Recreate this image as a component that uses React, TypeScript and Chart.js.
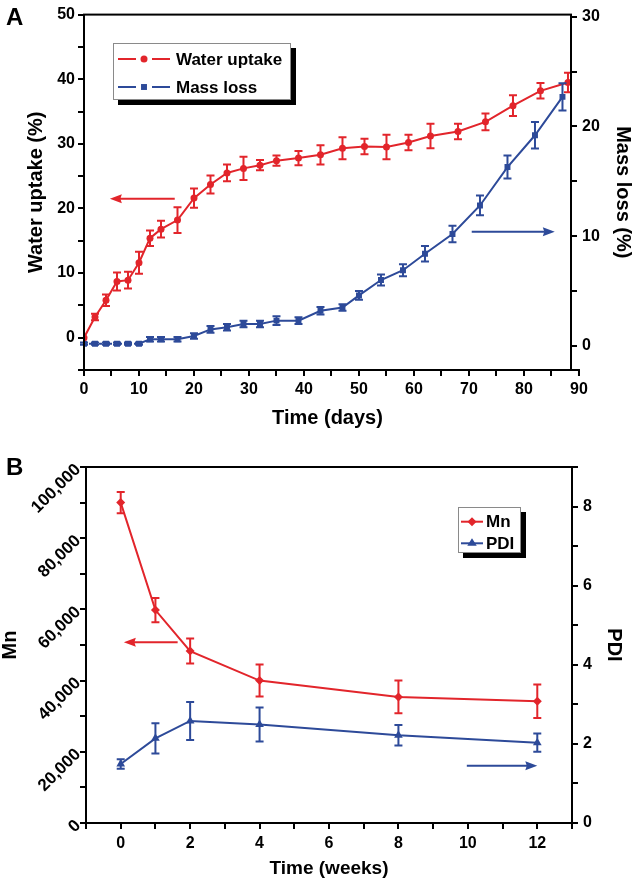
import React, { useEffect, useRef } from 'react';
import { Chart, registerables } from 'chart.js';

Chart.register(...registerables);

const FONT = "'Liberation Sans', Arial, Helvetica, sans-serif";
const RED = '#e2252b';
const BLUE = '#2d4a99';
const BLACK = '#000000';

// ---------------- Panel A data ----------------
const waterDays = [0, 2, 4, 6, 8, 10, 12, 14, 17, 20, 23, 26, 29, 32, 35, 39, 43, 47, 51, 55, 59, 63, 68, 73, 78, 83, 88];
const waterUptake = [0, 3.2, 5.8, 8.7, 8.9, 11.6, 15.4, 16.8, 18.2, 21.6, 23.7, 25.5, 26.2, 26.7, 27.4, 27.8, 28.3, 29.3, 29.6, 29.5, 30.2, 31.2, 31.9, 33.4, 35.9, 38.2, 39.5];
const waterErr = [0, 0.5, 0.9, 1.4, 1.3, 1.7, 1.2, 1.3, 2.0, 1.5, 1.4, 1.3, 1.8, 0.8, 0.8, 1.1, 1.5, 1.7, 1.2, 1.9, 1.2, 1.9, 1.2, 1.3, 1.6, 1.2, 1.5];
const massDays = [0, 2, 4, 6, 8, 10, 12, 14, 17, 20, 23, 26, 29, 32, 35, 39, 43, 47, 50, 54, 58, 62, 67, 72, 77, 82, 87];
const massLoss = [0.2, 0.2, 0.2, 0.2, 0.2, 0.2, 0.6, 0.6, 0.6, 0.9, 1.5, 1.7, 2.0, 2.0, 2.3, 2.3, 3.2, 3.5, 4.6, 6.0, 6.9, 8.4, 10.2, 12.8, 16.3, 19.2, 22.7];
const massErr = [0.1, 0.1, 0.1, 0.1, 0.1, 0.1, 0.2, 0.2, 0.2, 0.25, 0.3, 0.3, 0.3, 0.3, 0.4, 0.3, 0.35, 0.3, 0.4, 0.5, 0.55, 0.7, 0.75, 0.9, 1.05, 1.2, 1.25];

const dayTicks = [0, 5, 10, 15, 20, 25, 30, 35, 40, 45, 50, 55, 60, 65, 70, 75, 80, 85, 90];
const waterTicks = [-5, 0, 5, 10, 15, 20, 25, 30, 35, 40, 45, 50];
const massTicks = [0, 5, 10, 15, 20, 25, 30];

const arrowsA = [
  { axis: 'y', x0: 16.5, x1: 4.7, y: 21.5, color: RED },
  { axis: 'y2', x0: 70.5, x1: 85.6, y: 10.4, color: BLUE },
];

// ---------------- Panel B data ----------------
const weeks = [0, 1, 2, 4, 8, 12];
const mnValues = [90000, 59800, 48300, 40000, 35400, 34200];
const mnErr = [3000, 3400, 3500, 4500, 4600, 4700];
const pdiValues = [1.49, 2.14, 2.58, 2.49, 2.22, 2.03];
const pdiErr = [0.12, 0.38, 0.48, 0.43, 0.26, 0.23];

const weekTicks = [-1, 0, 1, 2, 3, 4, 5, 6, 7, 8, 9, 10, 11, 12, 13];
const mnTicks = [0, 10000, 20000, 30000, 40000, 50000, 60000, 70000, 80000, 90000, 100000];
const pdiTicks = [0, 1, 2, 3, 4, 5, 6, 7, 8, 9];

const arrowsB = [
  { axis: 'y', x0: 1.64, x1: 0.09, y: 50800, color: RED },
  { axis: 'y2', x0: 9.97, x1: 12.0, y: 1.45, color: BLUE },
];

// ---------------- helpers ----------------
function drawShape(ctx: CanvasRenderingContext2D, style: string, x: number, y: number, r: number, color: string) {
  ctx.save();
  ctx.fillStyle = color;
  ctx.beginPath();
  if (style === 'circle') {
    ctx.arc(x, y, r, 0, Math.PI * 2);
  } else if (style === 'rect') {
    const s = r * Math.SQRT1_2;
    ctx.rect(x - s, y - s, 2 * s, 2 * s);
  } else if (style === 'rectRot') {
    ctx.moveTo(x, y - r);
    ctx.lineTo(x + r, y);
    ctx.lineTo(x, y + r);
    ctx.lineTo(x - r, y);
    ctx.closePath();
  } else if (style === 'triangle') {
    const h = r * 1.5;
    ctx.moveTo(x, y - r);
    ctx.lineTo(x + r * 0.95, y + h - r);
    ctx.lineTo(x - r * 0.95, y + h - r);
    ctx.closePath();
  }
  ctx.fill();
  ctx.restore();
}

type LegendCfg = {
  box: { x: number; y: number; w: number; h: number };
  rows: number[];
  fontSize: number;
  textX: number;
  sample: { x0: number; x1: number; mx: number; gap: number };
};

function makeDeco(cfg: {
  errors: number[][];
  arrows: { axis: string; x0: number; x1: number; y: number; color: string }[];
  legend: LegendCfg;
  letter: { text: string; x: number; y: number };
  xExtendTo?: number;
}) {
  return {
    id: 'deco',
    afterDatasetsDraw(chart: any) {
      const ctx: CanvasRenderingContext2D = chart.ctx;
      const xs = chart.scales.x;
      cfg.errors.forEach((errs, di) => {
        const ds = chart.data.datasets[di];
        const meta = chart.getDatasetMeta(di);
        const ys = chart.scales[meta.yAxisID];
        ctx.save();
        ctx.strokeStyle = ds.borderColor;
        ctx.lineWidth = 2;
        const cap = 4;
        ds.data.forEach((p: any, i: number) => {
          const e = errs[i];
          if (!e) return;
          const px = xs.getPixelForValue(p.x);
          const yt = ys.getPixelForValue(p.y + e);
          const yb = ys.getPixelForValue(p.y - e);
          ctx.beginPath();
          ctx.moveTo(px, yt);
          ctx.lineTo(px, yb);
          ctx.moveTo(px - cap, yt);
          ctx.lineTo(px + cap, yt);
          ctx.moveTo(px - cap, yb);
          ctx.lineTo(px + cap, yb);
          ctx.stroke();
        });
        ctx.restore();
      });
    },
    afterDraw(chart: any) {
      const ctx: CanvasRenderingContext2D = chart.ctx;
      const { left, right, top, bottom } = chart.chartArea;
      const xs = chart.scales.x;
      // frame
      ctx.save();
      ctx.strokeStyle = BLACK;
      ctx.lineWidth = 2;
      ctx.strokeRect(left, top, right - left, bottom - top);
      if (cfg.xExtendTo !== undefined) {
        const ex = xs.getPixelForValue(cfg.xExtendTo);
        ctx.beginPath();
        ctx.moveTo(right, bottom);
        ctx.lineTo(ex + 1, bottom);
        ctx.moveTo(ex, bottom);
        ctx.lineTo(ex, bottom + 6);
        ctx.stroke();
      }
      ctx.restore();
      // arrows
      cfg.arrows.forEach((a) => {
        const ys = chart.scales[a.axis];
        const px0 = xs.getPixelForValue(a.x0);
        const px1 = xs.getPixelForValue(a.x1);
        const py = ys.getPixelForValue(a.y);
        const dir = px1 > px0 ? 1 : -1;
        const hl = 12;
        const hw = 4.5;
        ctx.save();
        ctx.strokeStyle = a.color;
        ctx.fillStyle = a.color;
        ctx.lineWidth = 2;
        ctx.beginPath();
        ctx.moveTo(px0, py);
        ctx.lineTo(px1 - dir * (hl - 2), py);
        ctx.stroke();
        ctx.beginPath();
        ctx.moveTo(px1, py);
        ctx.lineTo(px1 - dir * hl, py - hw);
        ctx.lineTo(px1 - dir * (hl - 1.5), py);
        ctx.lineTo(px1 - dir * hl, py + hw);
        ctx.closePath();
        ctx.fill();
        ctx.restore();
      });
      // legend
      const L = cfg.legend;
      ctx.save();
      ctx.fillStyle = BLACK;
      ctx.fillRect(L.box.x + 5, L.box.y + 5, L.box.w, L.box.h);
      ctx.fillStyle = '#ffffff';
      ctx.fillRect(L.box.x, L.box.y, L.box.w, L.box.h);
      ctx.strokeStyle = '#8a8a8a';
      ctx.lineWidth = 1;
      ctx.strokeRect(L.box.x + 0.5, L.box.y + 0.5, L.box.w - 1, L.box.h - 1);
      chart.data.datasets.forEach((ds: any, i: number) => {
        const ry = L.rows[i];
        ctx.strokeStyle = ds.borderColor;
        ctx.lineWidth = 2;
        ctx.beginPath();
        if (L.sample.gap > 0) {
          ctx.moveTo(L.sample.x0, ry);
          ctx.lineTo(L.sample.mx - L.sample.gap, ry);
          ctx.moveTo(L.sample.mx + L.sample.gap, ry);
          ctx.lineTo(L.sample.x1, ry);
        } else {
          ctx.moveTo(L.sample.x0, ry);
          ctx.lineTo(L.sample.x1, ry);
        }
        ctx.stroke();
        drawShape(ctx, ds.pointStyle, L.sample.mx, ry, ds.pointRadius, ds.borderColor);
        ctx.fillStyle = BLACK;
        ctx.font = `bold ${L.fontSize}px ${FONT}`;
        ctx.textBaseline = 'middle';
        ctx.textAlign = 'left';
        ctx.fillText(ds.label, L.textX, ry + 1);
      });
      ctx.restore();
      // panel letter
      ctx.save();
      ctx.fillStyle = BLACK;
      ctx.font = `bold 24px ${FONT}`;
      ctx.textBaseline = 'alphabetic';
      ctx.textAlign = 'left';
      ctx.fillText(cfg.letter.text, cfg.letter.x, cfg.letter.y);
      ctx.restore();
    },
  };
}

const tickFont = { family: FONT, size: 16, weight: 'bold' as const };
const gridOpts = { drawOnChartArea: false, drawTicks: true, tickLength: 6, color: BLACK, lineWidth: 2 };

function setTicks(values: number[]) {
  return (scale: any) => {
    scale.ticks = values.map((v) => ({ value: v }));
  };
}

export default function App() {
  const refA = useRef<HTMLCanvasElement | null>(null);
  const refB = useRef<HTMLCanvasElement | null>(null);

  useEffect(() => {
    const chartA = new Chart(refA.current as HTMLCanvasElement, {
      type: 'line',
      data: {
        datasets: [
          {
            label: 'Water uptake',
            data: waterDays.map((d, i) => ({ x: d, y: waterUptake[i] })),
            borderColor: RED,
            backgroundColor: RED,
            borderWidth: 2,
            pointStyle: 'circle',
            pointRadius: 3.5,
            pointBorderWidth: 0,
            yAxisID: 'y',
            tension: 0,
          },
          {
            label: 'Mass loss',
            data: massDays.map((d, i) => ({ x: d, y: massLoss[i] })),
            borderColor: BLUE,
            backgroundColor: BLUE,
            borderWidth: 2,
            pointStyle: 'rect',
            pointRadius: 4.2,
            pointBorderWidth: 0,
            yAxisID: 'y2',
            tension: 0,
            segment: {
              borderDash: (c: any) => (c.p1.parsed.x <= 10 ? [3, 2] : undefined),
            },
          },
        ] as any,
      },
      options: {
        animation: false,
        responsive: false,
        devicePixelRatio: 1,
        layout: { padding: { top: 12, left: 0, right: 0, bottom: 0 } },
        plugins: { legend: { display: false }, tooltip: { enabled: false } },
        scales: {
          x: {
            type: 'linear',
            min: 0,
            max: 88.55,
            afterBuildTicks: setTicks(dayTicks),
            afterFit: (s: any) => { s.height = 70; },
            ticks: {
              autoSkip: false,
              maxRotation: 0,
              padding: 4,
              color: BLACK,
              font: tickFont,
              callback: (v: any) => (Number(v) % 10 === 0 ? String(v) : ''),
            },
            grid: gridOpts,
            border: { display: false },
            title: {
              display: true,
              text: 'Time (days)',
              color: BLACK,
              font: { family: FONT, size: 20, weight: 'bold', lineHeight: 1 },
              padding: { top: 0, bottom: 12 },
            },
          },
          y: {
            type: 'linear',
            position: 'left',
            min: -5,
            max: 50,
            afterBuildTicks: setTicks(waterTicks),
            afterFit: (s: any) => { s.width = 84; },
            ticks: {
              autoSkip: false,
              padding: 3,
              color: BLACK,
              font: tickFont,
              callback: (v: any) => (Number(v) % 10 === 0 ? String(v) : ''),
            },
            grid: gridOpts,
            border: { display: false },
            title: {
              display: true,
              text: 'Water uptake (%)',
              color: BLACK,
              font: { family: FONT, size: 20, weight: 'bold', lineHeight: 1 },
              padding: { top: 26, bottom: 0 },
            },
          },
          y2: {
            type: 'linear',
            position: 'right',
            min: -2.2,
            max: 30.2,
            afterBuildTicks: setTicks(massTicks),
            afterFit: (s: any) => { s.width = 62; },
            ticks: {
              autoSkip: false,
              padding: 5,
              color: BLACK,
              font: tickFont,
              callback: (v: any) => (Number(v) % 10 === 0 ? String(v) : ''),
            },
            grid: gridOpts,
            border: { display: false },
            title: {
              display: true,
              text: 'Mass loss (%)',
              color: BLACK,
              font: { family: FONT, size: 20, weight: 'bold', lineHeight: 1 },
              padding: { top: 0, bottom: 0 },
            },
          },
        },
      } as any,
      plugins: [
        makeDeco({
          errors: [waterErr, massErr],
          arrows: arrowsA,
          legend: {
            box: { x: 113, y: 43, w: 178, h: 57 },
            rows: [59, 87],
            fontSize: 17,
            textX: 176,
            sample: { x0: 118, x1: 170, mx: 144, gap: 8 },
          },
          letter: { text: 'A', x: 6, y: 25 },
          xExtendTo: 90,
        }),
      ],
    });

    const chartB = new Chart(refB.current as HTMLCanvasElement, {
      type: 'line',
      data: {
        datasets: [
          {
            label: 'Mn',
            data: weeks.map((w, i) => ({ x: w, y: mnValues[i] })),
            borderColor: RED,
            backgroundColor: RED,
            borderWidth: 2,
            pointStyle: 'rectRot',
            pointRadius: 4.5,
            pointBorderWidth: 0,
            yAxisID: 'y',
            tension: 0,
          },
          {
            label: 'PDI',
            data: weeks.map((w, i) => ({ x: w, y: pdiValues[i] })),
            borderColor: BLUE,
            backgroundColor: BLUE,
            borderWidth: 2,
            pointStyle: 'triangle',
            pointRadius: 5,
            pointBorderWidth: 0,
            yAxisID: 'y2',
            tension: 0,
          },
        ] as any,
      },
      options: {
        animation: false,
        responsive: false,
        devicePixelRatio: 1,
        layout: { padding: { top: 27, left: 0, right: 0, bottom: 0 } },
        plugins: { legend: { display: false }, tooltip: { enabled: false } },
        scales: {
          x: {
            type: 'linear',
            min: -1,
            max: 13,
            afterBuildTicks: setTicks(weekTicks),
            afterFit: (s: any) => { s.height = 59; },
            ticks: {
              autoSkip: false,
              maxRotation: 0,
              padding: 5,
              color: BLACK,
              font: tickFont,
              callback: (v: any) => (Number(v) >= 0 && Number(v) % 2 === 0 ? String(v) : ''),
            },
            grid: gridOpts,
            border: { display: false },
            title: {
              display: true,
              text: 'Time (weeks)',
              color: BLACK,
              font: { family: FONT, size: 19, weight: 'bold', lineHeight: 1 },
              padding: { top: 0, bottom: 4 },
            },
          },
          y: {
            type: 'linear',
            position: 'left',
            min: 0,
            max: 100000,
            afterBuildTicks: setTicks(mnTicks),
            afterFit: (s: any) => { s.width = 86; },
            ticks: {
              autoSkip: false,
              minRotation: 45,
              maxRotation: 45,
              padding: 2,
              color: BLACK,
              font: { family: FONT, size: 17, weight: 'bold' },
              callback: (v: any) => (Number(v) % 20000 === 0 ? Number(v).toLocaleString('en-US') : ''),
            },
            grid: gridOpts,
            border: { display: false },
            title: {
              display: true,
              text: 'Mn',
              color: BLACK,
              font: { family: FONT, size: 20, weight: 'bold', lineHeight: 1 },
              padding: { top: 0, bottom: 0 },
            },
          },
          y2: {
            type: 'linear',
            position: 'right',
            min: 0,
            max: 9,
            afterBuildTicks: setTicks(pdiTicks),
            afterFit: (s: any) => { s.width = 61; },
            ticks: {
              autoSkip: false,
              padding: 5,
              color: BLACK,
              font: tickFont,
              callback: (v: any) => (Number(v) % 2 === 0 ? String(v) : ''),
            },
            grid: gridOpts,
            border: { display: false },
            title: {
              display: true,
              text: 'PDI',
              color: BLACK,
              font: { family: FONT, size: 20, weight: 'bold', lineHeight: 1 },
              padding: { top: 9, bottom: 0 },
            },
          },
        },
      } as any,
      plugins: [
        makeDeco({
          errors: [mnErr, pdiErr],
          arrows: arrowsB,
          legend: {
            box: { x: 458, y: 67, w: 63, h: 46 },
            rows: [81.7, 103.3],
            fontSize: 17,
            textX: 486,
            sample: { x0: 461, x1: 483, mx: 472, gap: 0 },
          },
          letter: { text: 'B', x: 6, y: 35 },
        }),
      ],
    });

    return () => {
      chartA.destroy();
      chartB.destroy();
    };
  }, []);

  return (
    <div style={{ position: 'absolute', left: 0, top: 0, width: 633, height: 882, background: '#fff' }}>
      <canvas ref={refA} width={633} height={440} style={{ position: 'absolute', left: 0, top: 0, display: 'block' }} />
      <canvas ref={refB} width={633} height={442} style={{ position: 'absolute', left: 0, top: 440, display: 'block' }} />
    </div>
  );
}
